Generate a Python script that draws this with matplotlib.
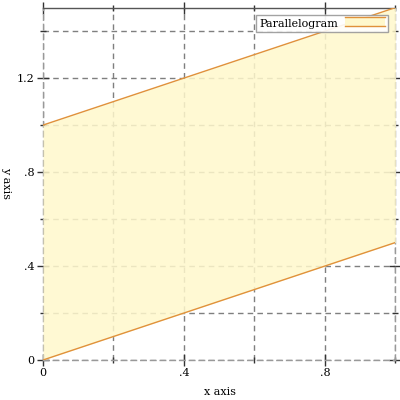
import matplotlib.pyplot as plt
from matplotlib.patches import Patch, Rectangle
from matplotlib.legend_handler import HandlerBase
from matplotlib.lines import Line2D

# parallelogram between two parallel lines
x_vals = [0, 1]
lower_y = [0, 0.5]
upper_y = [1, 1.5]

major_ticks = [0, 0.4, 0.8, 1.2]
minor_ticks = [0.2, 0.6, 1.0, 1.4]
x_major = [0, 0.4, 0.8]
x_minor = [0.2, 0.6, 1.0]
tick_labels = ["0", ".4", ".8", "1.2"]

fill_color = "#fff8cc"
line_color = "#e0913a"
grid_color = "#7f7f7f"

plt.rcParams["font.family"] = "DejaVu Serif"

fig = plt.figure(figsize=(4, 4), dpi=100)
ax = fig.add_axes([0.1075, 0.1, 0.881, 0.881])

ax.fill_between(x_vals, lower_y, upper_y, color=fill_color, alpha=0.85, lw=0, zorder=3)
ax.plot(x_vals, lower_y, color=line_color, lw=1, zorder=4)
ax.plot(x_vals, upper_y, color=line_color, lw=1, zorder=4)

ax.set_xlim(0, 1)
ax.set_ylim(0, 1.5)

ax.set_xticks(x_major)
ax.set_xticklabels(tick_labels[:3])
ax.set_xticks(x_minor, minor=True)
ax.set_yticks(major_ticks)
ax.set_yticklabels(tick_labels)
ax.set_yticks(minor_ticks, minor=True)

ax.grid(True, which="both", color=grid_color, linestyle=(0, (4, 3)), lw=1, zorder=1)
ax.set_axisbelow(True)

ax.tick_params(which="major", direction="inout", length=8, width=1, color="#333333",
               labelsize=8, top=True, right=True, pad=2)
ax.tick_params(which="minor", direction="inout", length=4, width=1, color="#333333",
               top=True, right=True)

for side in ["left", "bottom", "right"]:
    ax.spines[side].set_color("#999999")
    ax.spines[side].set_linestyle((0, (4, 3)))
ax.spines["top"].set_color("#555555")
for sp in ax.spines.values():
    sp.set_linewidth(1)

ax.set_xlabel("x axis", fontsize=8, va="center")
ax.xaxis.set_label_coords(0.502, -0.091)
ax.set_ylabel("y axis", fontsize=8, rotation=270, va="center")
ax.yaxis.set_label_coords(-0.105, 0.502)


class IntervalHandler(HandlerBase):
    def create_artists(self, legend, orig, xd, yd, w, h, fs, trans):
        r = Rectangle((xd, yd), w, h, facecolor=fill_color, edgecolor="none", transform=trans)
        l1 = Line2D([xd, xd + w], [yd, yd], color=line_color, lw=1, transform=trans)
        l2 = Line2D([xd, xd + w], [yd + h, yd + h], color=line_color, lw=1, transform=trans)
        return [r, l1, l2]


leg = ax.legend([Patch()], ["Parallelogram"], handler_map={Patch: IntervalHandler()},
                loc="upper right", bbox_to_anchor=(0.985, 0.985), fontsize=8,
                frameon=True, fancybox=False, edgecolor="#999999", framealpha=0.9,
                handlelength=3.6, handleheight=0.9, markerfirst=False,
                borderpad=0.3, handletextpad=0.6, borderaxespad=0.2)
leg.get_frame().set_linewidth(1)
leg.set_zorder(10)

fig.savefig("out.png", dpi=100)
